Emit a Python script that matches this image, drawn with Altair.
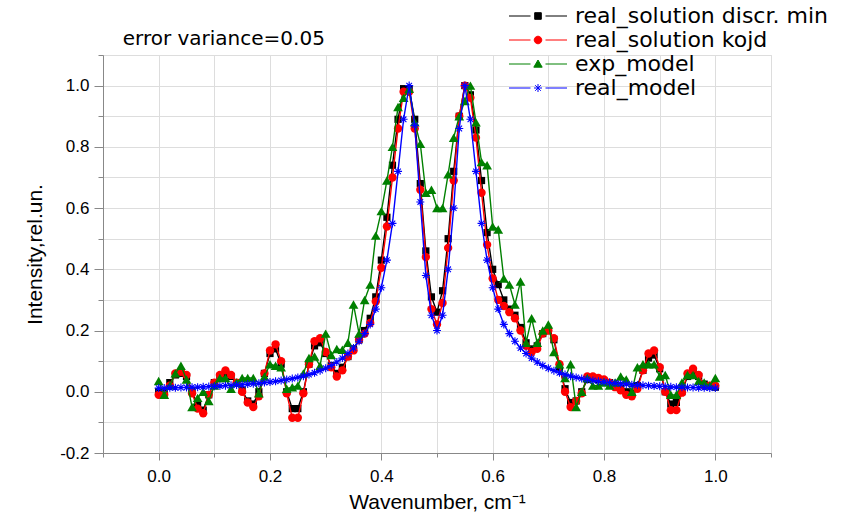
import altair as alt
import pandas as pd

x_vals = [0.00, 0.01, 0.02, 0.03, 0.04, 0.05, 0.06, 0.07, 0.08, 0.09,
          0.10, 0.11, 0.12, 0.13, 0.14, 0.15, 0.16, 0.17, 0.18, 0.19,
          0.20, 0.21, 0.22, 0.23, 0.24, 0.25, 0.26, 0.27, 0.28, 0.29,
          0.30, 0.31, 0.32, 0.33, 0.34, 0.35, 0.36, 0.37, 0.38, 0.39,
          0.40, 0.41, 0.42, 0.43, 0.44, 0.45, 0.46, 0.47, 0.48, 0.49,
          0.50, 0.51, 0.52, 0.53, 0.54, 0.55, 0.56, 0.57, 0.58, 0.59,
          0.60, 0.61, 0.62, 0.63, 0.64, 0.65, 0.66, 0.67, 0.68, 0.69,
          0.70, 0.71, 0.72, 0.73, 0.74, 0.75, 0.76, 0.77, 0.78, 0.79,
          0.80, 0.81, 0.82, 0.83, 0.84, 0.85, 0.86, 0.87, 0.88, 0.89,
          0.90, 0.91, 0.92, 0.93, 0.94, 0.95, 0.96, 0.97, 0.98, 0.99, 1.00]

black_vals = [0.0, 0.0, 0.03, 0.055, 0.06, 0.05, 0.0, -0.045, -0.06, -0.01,
              0.03, 0.05, 0.06, 0.05, 0.03, 0.005, -0.03, -0.04, 0.0, 0.06,
              0.125, 0.14, 0.09, 0.0, -0.055, -0.055, 0.0, 0.09, 0.15, 0.16,
              0.125, 0.085, 0.06, 0.08, 0.115, 0.14, 0.17, 0.20, 0.24, 0.31,
              0.43, 0.57, 0.74, 0.89, 0.99, 0.99, 0.89, 0.68, 0.46, 0.31,
              0.26, 0.33, 0.50, 0.72, 0.90, 1.00, 0.97, 0.855, 0.69, 0.52,
              0.40, 0.35, 0.30, 0.27, 0.25, 0.21, 0.16, 0.14, 0.15, 0.19,
              0.20, 0.17, 0.08, 0.01, -0.035, -0.03, 0.0, 0.04, 0.045, 0.04,
              0.035, 0.03, 0.02, 0.01, 0.0, -0.005, 0.02, 0.07, 0.11, 0.12,
              0.075, 0.0, -0.04, -0.035, 0.0, 0.05, 0.06, 0.05, 0.025, 0.02, 0.015]

red_vals = [-0.01, -0.01, 0.02, 0.06, 0.065, 0.055, -0.005, -0.055, -0.07, -0.01,
            0.03, 0.055, 0.07, 0.055, 0.03, 0.0, -0.035, -0.05, -0.015, 0.06,
            0.135, 0.155, 0.10, -0.005, -0.085, -0.085, -0.005, 0.09, 0.165, 0.175,
            0.13, 0.08, 0.05, 0.07, 0.115, 0.135, 0.17, 0.19, 0.225, 0.295,
            0.405, 0.54, 0.70, 0.86, 0.98, 0.98, 0.86, 0.66, 0.44, 0.27,
            0.22, 0.29, 0.47, 0.69, 0.90, 1.00, 0.96, 0.83, 0.65, 0.48,
            0.37, 0.30, 0.28, 0.26, 0.24, 0.20, 0.15, 0.13, 0.14, 0.19,
            0.20, 0.175, 0.09, 0.0, -0.05, -0.03, -0.005, 0.05, 0.05, 0.045,
            0.04, 0.03, 0.015, 0.005, -0.01, -0.015, 0.01, 0.07, 0.125, 0.135,
            0.08, 0.0, -0.06, -0.06, -0.003, 0.06, 0.075, 0.055, 0.02, 0.02, 0.02]

green_vals = [0.035, -0.01, 0.02, 0.06, 0.085, 0.04, -0.05, -0.02, 0.0, -0.03,
              0.02, 0.045, 0.045, 0.01, 0.03, 0.045, 0.045, 0.045, -0.005, 0.05,
              0.09, 0.085, 0.08, 0.01, 0.015, 0.02, 0.06, 0.11, 0.115, 0.085,
              0.19, 0.12, 0.14, 0.137, 0.16, 0.285, 0.19, 0.30, 0.35, 0.51,
              0.59, 0.69, 0.80, 0.93, 0.96, 0.99, 0.88, 0.81, 0.65, 0.66,
              0.60, 0.60, 0.71, 0.83, 0.90, 0.95, 1.00, 0.88, 0.75, 0.74,
              0.54, 0.53, 0.37, 0.35, 0.285, 0.36, 0.16, 0.24, 0.16, 0.20,
              0.22, 0.13, 0.09, 0.045, 0.09, -0.05, 0.0, 0.045, 0.02, 0.02,
              0.03, 0.02, 0.03, 0.05, 0.04, 0.0, 0.08, 0.09, 0.09, 0.09,
              0.05, 0.055, -0.01, -0.01, 0.03, 0.055, 0.055, 0.035, 0.03, 0.02, 0.045]

blue_vals = [0.012, 0.012, 0.013, 0.013, 0.014, 0.014, 0.015, 0.015, 0.016, 0.017,
             0.018, 0.019, 0.020, 0.021, 0.022, 0.023, 0.025, 0.026, 0.028, 0.030,
             0.032, 0.034, 0.037, 0.040, 0.043, 0.047, 0.051, 0.056, 0.062, 0.069,
             0.077, 0.086, 0.097, 0.110, 0.125, 0.143, 0.165, 0.190, 0.220, 0.270,
             0.340, 0.430, 0.550, 0.720, 0.890, 1.000, 0.870, 0.620, 0.380, 0.250,
             0.200, 0.250, 0.400, 0.600, 0.860, 1.000, 0.890, 0.720, 0.550, 0.430,
             0.340, 0.270, 0.220, 0.190, 0.165, 0.143, 0.125, 0.110, 0.097, 0.086,
             0.077, 0.069, 0.062, 0.056, 0.051, 0.047, 0.043, 0.040, 0.037, 0.034,
             0.032, 0.030, 0.028, 0.026, 0.025, 0.023, 0.022, 0.021, 0.020, 0.019,
             0.018, 0.017, 0.016, 0.015, 0.015, 0.014, 0.014, 0.013, 0.013, 0.012, 0.012]

series_names = ["real_solution discr. min", "real_solution kojd", "exp_model", "real_model"]
series_colors = ["#000000", "#ff0000", "#008000", "#0000ff"]

x_ticks = [-0.1, 0.0, 0.1, 0.2, 0.3, 0.4, 0.5, 0.6, 0.7, 0.8, 0.9, 1.0, 1.1]
y_ticks = [-0.2, -0.1, 0.0, 0.1, 0.2, 0.3, 0.4, 0.5, 0.6, 0.7, 0.8, 0.9, 1.0, 1.1]

rows = []
for name, vals in zip(series_names, [black_vals, red_vals, green_vals, blue_vals]):
    for xv, yv in zip(x_vals, vals):
        rows.append({"x": xv, "y": yv, "series": name})
df = pd.DataFrame(rows)

FONT = "DejaVu Sans"
major_test = "abs(round(datum.value*10)) % 2 == 0"
label_expr = major_test + " ? replace(format(datum.value, '.1f'), '\u2212', '-') : ''"

x_scale = alt.Scale(domain=[-0.1, 1.1], nice=False, zero=False)
y_scale = alt.Scale(domain=[-0.2, 1.1], nice=False, zero=False)

x_axis = alt.Axis(values=x_ticks, labelExpr=label_expr, title="Wavenumber, cm\u207b\u00b9",
                  tickSize={"condition": {"test": major_test, "value": 7}, "value": 4},
                  labelPadding=8, titlePadding=7, labelOverlap=False, labelFlush=False,
                  labelFontSize=17, titleFontSize=21, titleFontWeight="normal")
y_axis = alt.Axis(values=y_ticks, labelExpr=label_expr, title="Intensity,rel.un.",
                  tickSize={"condition": {"test": major_test, "value": 9}, "value": 5},
                  labelPadding=5, titlePadding=14, labelOverlap=False, labelFlush=False,
                  labelFontSize=17, titleFontSize=21, titleFontWeight="normal")

X = alt.X("x:Q", scale=x_scale, axis=x_axis)
Y = alt.Y("y:Q", scale=y_scale, axis=y_axis)

asterisk = "M0,-1V1M-1,0H1M-0.7,-0.7L0.7,0.7M-0.7,0.7L0.7,-0.7"
point_styles = [
    dict(shape="square", size=52, filled=True),
    dict(shape="circle", size=70, filled=True),
    dict(shape="triangle-up", size=95, filled=True),
    dict(shape=asterisk, size=64, filled=False, strokeWidth=1.1),
]

layers = []
for name, col, ps in zip(series_names, series_colors, point_styles):
    base = alt.Chart(df).transform_filter(alt.datum.series == name)
    layers.append(base.mark_line(color=col, strokeWidth=1.4).encode(x=X, y=Y))
    layers.append(base.mark_point(color=col, opacity=1, **ps).encode(x=X, y=Y))

# legend symbols: line - marker - line
seg = "M-2.9,0H-0.75M0.75,0H2.9"
legend_paths = [
    seg + "M-0.33,-0.33H0.33V0.33H-0.33Z",
    seg + "M0.38,0A0.38,0.38 0 1,1 -0.38,0A0.38,0.38 0 1,1 0.38,0Z",
    seg + "M0,-0.4L0.42,0.32L-0.42,0.32Z",
    seg + "M0,-0.4V0.4M-0.4,0H0.4M-0.28,-0.28L0.28,0.28M-0.28,0.28L0.28,-0.28",
]

legend = alt.Legend(title=None, orient="none", legendX=424, legendY=-50,
                    labelFont=FONT, labelFontSize=22, labelColor="#000000",
                    labelLimit=500, labelOffset=26, rowPadding=2, padding=0,
                    symbolSize=400, symbolStrokeWidth=1)

legend_layer = alt.Chart(df).transform_filter("datum.x > 5").mark_point(
    filled=True, opacity=1, size=400, strokeWidth=1
).encode(
    x=X, y=Y,
    color=alt.Color("series:N", scale=alt.Scale(domain=series_names, range=series_colors), legend=legend),
    stroke=alt.Stroke("series:N", scale=alt.Scale(domain=series_names, range=series_colors), legend=legend),
    shape=alt.Shape("series:N", scale=alt.Scale(domain=series_names, range=legend_paths), legend=legend),
)

chart = alt.layer(*layers, legend_layer).properties(
    width=668, height=398,
    padding={"left": 103, "top": 55, "right": 72, "bottom": 66},
    autosize="none",
    title=alt.TitleParams("error variance=0.05", anchor="start", font=FONT, fontSize=20,
                          fontWeight="normal", color="#000000", dx=98, dy=52, offset=8),
).configure_view(stroke=None).configure_axis(
    grid=False, domainColor="#000000", tickColor="#000000", labelColor="#000000",
    titleColor="#000000", labelFont=FONT, titleFont=FONT, titleFontWeight="normal",
    domainWidth=1.2, tickWidth=1.2,
).configure(background="#ffffff")

chart.save("out.html", embed_options={"renderer": "svg", "actions": False})
